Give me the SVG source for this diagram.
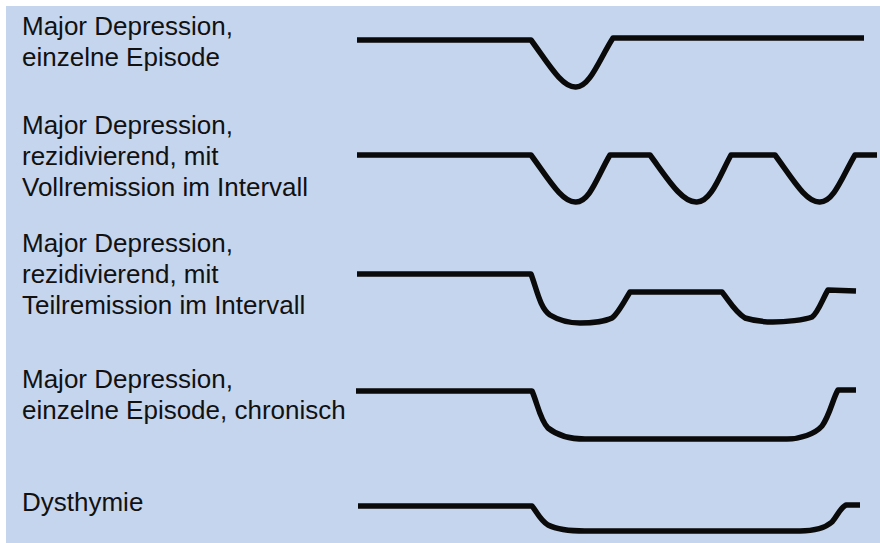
<svg xmlns="http://www.w3.org/2000/svg" width="880" height="543" viewBox="0 0 880 543">
<style>
.lbl{font-family:"Liberation Sans",Arial,sans-serif;font-size:26px;fill:#111}
.crv{fill:none;stroke:#0a0a0a;stroke-width:5.5;stroke-linejoin:round}
</style>
<rect x="0" y="0" width="880" height="543" fill="#ffffff"/>
<rect x="6" y="6" width="874" height="537" fill="#c6d5ee"/>
<g id="row1">
<text class="lbl" x="22" y="35">Major Depression,</text>
<text class="lbl" x="22" y="66">einzelne Episode</text>
</g>
<g id="row2">
<text class="lbl" x="22" y="134">Major Depression,</text>
<text class="lbl" x="22" y="165">rezidivierend, mit</text>
<text class="lbl" x="22" y="196">Vollremission im Intervall</text>
</g>
<g id="row3">
<text class="lbl" x="22" y="252">Major Depression,</text>
<text class="lbl" x="22" y="283">rezidivierend, mit</text>
<text class="lbl" x="22" y="314">Teilremission im Intervall</text>
</g>
<g id="row4">
<text class="lbl" x="22" y="388">Major Depression,</text>
<text class="lbl" x="22" y="419">einzelne Episode, chronisch</text>
</g>
<g id="row5">
<text class="lbl" x="22" y="511">Dysthymie</text>
</g>
<g id="curves">
<path class="crv" d="M357,40 L531,40 C548,63 562,88 576,87 C590,87 600,58 613,38 L864,38"/>
<path class="crv" d="M357,155 L531,155 C548,178 562,203 576,202 C590,202 598,175 610,155 L650,155 C667,178 682,203 697,202 C711,202 720,175 731,155 L775,155 C792,178 806,203 820,202 C834,202 843,175 855,155 L877,155"/>
<path class="crv" d="M357,274 L531,274 C537,290 540,308 550,315 C560,321 570,323 580,323 C592,323 606,321 612,318 C618,314 625,300 630,292 L722,292 C730,302 735,312 745,318 C755,321 765,322 773,322 C785,322 805,320 812,317 C818,313 823,298 828,290 L856,291"/>
<path class="crv" d="M356,391 L532,391 C537,402 540,420 548,428 C558,436 572,439 585,439 L787,439 C800,439 815,434 822,426 C830,415 833,398 838,390 L856,390"/>
<path class="crv" d="M358,506 L532,506 C537,512 540,520 548,525 C558,530 570,531 585,531 L800,531 C812,531 825,528 832,522 C838,515 840,508 846,505 L860,505"/>
</g>
</svg>
